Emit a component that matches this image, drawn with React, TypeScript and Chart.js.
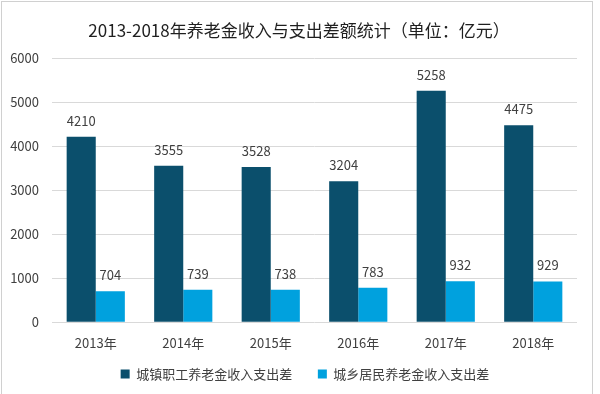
import React, { useEffect, useRef } from "react";
import { Chart, registerables } from "chart.js";

Chart.register(...registerables);

const FONT = "'Noto Sans CJK SC', 'Noto Sans', sans-serif";

const titleText = "2013-2018年养老金收入与支出差额统计（单位：亿元）";
const categories = ["2013年", "2014年", "2015年", "2016年", "2017年", "2018年"];
const seriesNames = ["城镇职工养老金收入支出差", "城乡居民养老金收入支出差"];
const urbanEmployee = [4210, 3555, 3528, 3204, 5258, 4475];
const urbanRural = [704, 739, 738, 783, 932, 929];
const yMin = 0;
const yMax = 6000;
const yStep = 1000;

const colors = ["#0B4F6C", "#00A1DE"];

const valueLabels = {
  id: "valueLabels",
  afterDatasetsDraw(chart: any) {
    const ctx = chart.ctx;
    ctx.save();
    ctx.font = `13px ${FONT}`;
    ctx.fillStyle = "#404040";
    ctx.textAlign = "center";
    ctx.textBaseline = "middle";
    chart.data.datasets.forEach((ds: any, i: number) => {
      const meta = chart.getDatasetMeta(i);
      meta.data.forEach((el: any, j: number) => {
        ctx.fillText(String(ds.data[j]), el.x, el.y - 16);
      });
    });
    ctx.restore();
  },
};

export default function App() {
  const ref = useRef<HTMLCanvasElement | null>(null);

  useEffect(() => {
    if (!ref.current) return;
    const chart = new Chart(ref.current, {
      type: "bar",
      data: {
        labels: categories,
        datasets: [
          {
            label: seriesNames[0],
            data: urbanEmployee,
            backgroundColor: colors[0],
            borderWidth: 0,
            categoryPercentage: 0.665,
            barPercentage: 1,
          },
          {
            label: seriesNames[1],
            data: urbanRural,
            backgroundColor: colors[1],
            borderWidth: 0,
            categoryPercentage: 0.665,
            barPercentage: 1,
          },
        ],
      },
      options: {
        animation: false,
        responsive: true,
        maintainAspectRatio: false,
        layout: { padding: { left: 10, right: 0, top: 0, bottom: 3.5 } },
        scales: {
          x: {
            grid: { display: false, drawTicks: false },
            border: { display: false },
            ticks: {
              color: "#404040",
              font: { family: FONT, size: 13 },
              padding: 13,
            },
          },
          y: {
            min: yMin,
            max: yMax,
            afterFit: (s: any) => {
              s.width = 42;
            },
            grid: { color: "#D9D9D9", lineWidth: 1, drawTicks: false },
            border: { display: false },
            ticks: {
              stepSize: yStep,
              color: "#404040",
              font: { family: FONT, size: 13 },
              padding: 13,
              callback: (v: any) => String(v),
            },
          },
          y2: {
            position: "right",
            display: true,
            grid: { display: false, drawTicks: false },
            border: { display: false },
            ticks: { display: false },
            afterFit: (s: any) => {
              s.width = 23;
            },
          },
        },
        plugins: {
          title: {
            display: true,
            text: titleText + "\u2002\u2009",
            color: "#1F1F1F",
            font: { family: FONT, size: 17, weight: "normal" },
            padding: { top: 20.8, bottom: 16.8 },
          },
          legend: {
            position: "bottom",
            labels: {
              boxWidth: 9,
              boxHeight: 9,
              padding: 3.6,
              color: "#404040",
              font: { family: FONT, size: 13 },
              generateLabels: (c: any) => {
                const items = Chart.defaults.plugins.legend.labels.generateLabels(c);
                return items.map((it: any, i: number) =>
                  i === 0 ? { ...it, text: it.text + "\u2003\u2002\u2009" } : it
                );
              },
            },
          },
          tooltip: { enabled: false },
        },
      },
      plugins: [valueLabels],
    } as any);
    return () => chart.destroy();
  }, []);

  return (
    <div
      style={{
        position: "fixed",
        left: 0,
        top: 0,
        width: 600,
        height: 394,
        background: "#ffffff",
      }}
    >
      <canvas ref={ref} />
      <div
        style={{
          position: "absolute",
          left: 1,
          top: 1,
          width: 590,
          height: 400,
          borderLeft: "1px solid #D0D0D0",
          borderTop: "1px solid #D0D0D0",
          borderRight: "1px solid #D0D0D0",
          pointerEvents: "none",
        }}
      />
    </div>
  );
}
